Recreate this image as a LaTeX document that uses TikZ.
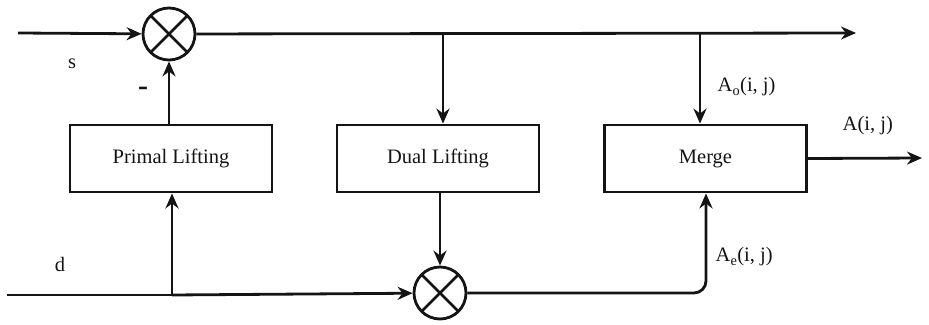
\documentclass[tikz,border=0pt]{standalone}
\usepackage{fontspec}
\setmainfont{Liberation Serif}
\usetikzlibrary{arrows.meta}
\begin{document}
\begin{tikzpicture}[x=1pt,y=-1pt,
  line width=2.8pt, color={black!92},
  arr/.style={-{Stealth[length=15pt,width=13pt]}},
  blk/.style={draw, minimum width=202pt, minimum height=67pt, inner sep=0pt, font=\fontsize{20.5}{24}\selectfont},
  mult/.style={draw, circle, minimum size=52pt, inner sep=0pt, path picture={
     \draw[line width=2.6pt] ([shift={(7.6pt,7.6pt)}]path picture bounding box.south west) -- ([shift={(-7.6pt,-7.6pt)}]path picture bounding box.north east);
     \draw[line width=2.6pt] ([shift={(7.6pt,-7.6pt)}]path picture bounding box.north west) -- ([shift={(-7.6pt,7.6pt)}]path picture bounding box.south east);}},
  lbl/.style={font=\fontsize{20.5}{24}\selectfont}]
\useasboundingbox (0,0) rectangle (929,324);
\node[mult] (m1) at (169,34) {};
\node[mult] (m2) at (440,293) {};
\node[blk] (pl) at (171,158.5) {Primal Lifting};
\node[blk] (dl) at (438,158.5) {Dual Lifting};
\node[blk] (mg) at (705.5,158.5) {Merge};
\coordinate (sin) at (18,33);
\coordinate (tout) at (856,33);
\coordinate (din) at (7,295);
\coordinate (aout) at (922,158);
\coordinate (j1) at (443,33);
\coordinate (j2) at (700,33);
\coordinate (j3) at (172,295);
\coordinate (k1) at (706,293);
\draw[arr] (sin) -- (m1);
\draw[arr] (m1) -- (tout);
\draw[arr] (pl.north -| m1) -- (m1);
\draw[arr] (j1) -- (j1 |- dl.north);
\draw[arr] (j2) -- (j2 |- mg.north);
\draw[arr] (mg.east) -- (aout);
\draw (din) -- (j3);
\draw[arr] (j3) -- (j3 |- pl.south);
\draw[arr] (j3) -- (m2);
\draw[arr] (dl.south -| m2) -- (m2);
\draw[arr, rounded corners=12pt] (m2) -- (k1) -- (k1 |- mg.south);
\node[lbl] (s) at (72,64) {s};
\node[lbl, font=\fontsize{30}{30}\selectfont\bfseries] (minus) at (143,91) {-};
\node[lbl] (d) at (60,264) {d};
\node[lbl, anchor=west] (ao) at (713,87) {A\textsubscript{o}(i, j)};
\node[lbl, anchor=west] (a) at (838,126) {A(i, j)};
\node[lbl, anchor=west] (ae) at (711,257) {A\textsubscript{e}(i, j)};
\end{tikzpicture}
\end{document}
